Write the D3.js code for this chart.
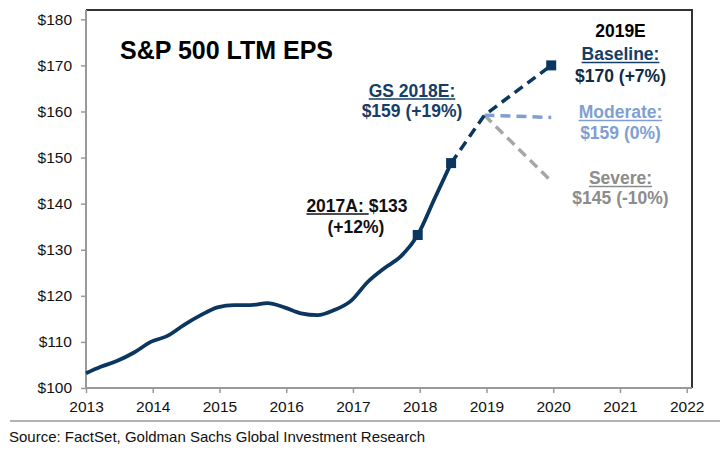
<!DOCTYPE html>
<html>
<head>
<meta charset="utf-8">
<script src="https://cdn.jsdelivr.net/npm/d3@7"></script>
<style>
  html, body { margin: 0; padding: 0; background: #fff; }
  svg { display: block; font-family: "Liberation Sans", Arial, sans-serif; }
</style>
</head>
<body>
<svg id="chart" width="720" height="456"></svg>
<script>
// ---- Data ----
const histDates = [2013.0, 2013.22, 2013.47, 2013.72, 2013.97, 2014.22, 2014.47, 2014.72, 2014.97,
  2015.22, 2015.47, 2015.72, 2015.97, 2016.22, 2016.47, 2016.72, 2016.97,
  2017.22, 2017.47, 2017.72, 2017.97, 2018.22, 2018.47];
const histEPS = [103.2, 104.6, 105.9, 107.7, 110.0, 111.3, 113.7, 115.8, 117.5,
  118.0, 118.0, 118.4, 117.5, 116.2, 115.8, 116.9, 118.9,
  123.0, 126.0, 128.6, 133.2, 141.0, 148.8];

const baselineDates = [2018.47, 2018.97, 2019.97];
const baselineEPS = [148.8, 159.2, 170.0];
const moderateDates = [2018.97, 2019.97];
const moderateEPS = [159.2, 158.7];
const severeDates = [2018.97, 2019.97];
const severeEPS = [159.2, 144.9];

const markerDates = [2017.97, 2018.47, 2019.97];
const markerEPS = [133.2, 148.8, 170.0];

const yTicks = [100, 110, 120, 130, 140, 150, 160, 170, 180];
const xTicks = [2013, 2014, 2015, 2016, 2017, 2018, 2019, 2020, 2021, 2022];

const titleText = "S&P 500 LTM EPS";
const sourceText = "Source: FactSet, Goldman Sachs Global Investment Research";

// ---- Setup ----
const svg = d3.select("#chart");
const navy = "#0b365f";
const lightBlue = "#7f9fd3";
const gray = "#a6a6a6";

const x = d3.scaleLinear().domain([2013, 2022]).range([86, 686.7]);
const y = d3.scaleLinear().domain([100, 180]).range([388, 19.3]);

const plotTop = 10, plotRight = 692, plotBottom = 388, plotLeft = 86;

// frame (top + right)
svg.append("path")
  .attr("d", `M${plotLeft},${plotTop}H${plotRight}V${plotBottom}`)
  .attr("fill", "none").attr("stroke", "#333").attr("stroke-width", 2);

// Y axis
const yAxis = svg.append("g").attr("transform", `translate(${plotLeft},0)`)
  .call(d3.axisLeft(y).tickValues(yTicks).tickSize(5).tickPadding(9).tickFormat(d => "$" + d));
yAxis.select(".domain").attr("d", `M0,${plotTop}V${plotBottom}`).attr("stroke", "#999").attr("stroke-width", 2);
yAxis.selectAll(".tick line").attr("stroke", "#999").attr("stroke-width", 1.5);
yAxis.selectAll(".tick text").attr("font-size", "15.5px").attr("fill", "#111")
  .attr("font-family", "Liberation Sans, Arial, sans-serif");

// X axis
const xAxis = svg.append("g").attr("transform", `translate(0,${plotBottom})`)
  .call(d3.axisBottom(x).tickValues(xTicks).tickSize(5).tickPadding(8).tickFormat(d3.format("d")));
xAxis.select(".domain").attr("d", `M${plotLeft},0H${plotRight}`).attr("stroke", "#999").attr("stroke-width", 2);
xAxis.selectAll(".tick line").attr("stroke", "#999").attr("stroke-width", 1.5);
xAxis.selectAll(".tick text").attr("font-size", "15.5px").attr("fill", "#111")
  .attr("font-family", "Liberation Sans, Arial, sans-serif");

// ---- Lines ----
const line = d3.line().x(d => x(d[0])).y(d => y(d[1]));
const zip = (a, b) => a.map((v, i) => [v, b[i]]);

svg.append("path").datum(zip(severeDates, severeEPS))
  .attr("d", line).attr("fill", "none").attr("stroke", gray)
  .attr("stroke-width", 3.5).attr("stroke-dasharray", "10,6");
svg.append("path").datum(zip(moderateDates, moderateEPS))
  .attr("d", line).attr("fill", "none").attr("stroke", lightBlue)
  .attr("stroke-width", 3.5).attr("stroke-dasharray", "10,6");
svg.append("path").datum(zip(baselineDates, baselineEPS))
  .attr("d", line).attr("fill", "none").attr("stroke", navy)
  .attr("stroke-width", 3.5).attr("stroke-dasharray", "10,6");

svg.append("path").datum(zip(histDates, histEPS))
  .attr("d", d3.line().x(d => x(d[0])).y(d => y(d[1])).curve(d3.curveMonotoneX))
  .attr("fill", "none").attr("stroke", navy).attr("stroke-width", 3.8)
  .attr("stroke-linejoin", "round");

svg.selectAll("rect.marker").data(zip(markerDates, markerEPS)).enter()
  .append("rect").attr("class", "marker")
  .attr("x", d => x(d[0]) - 5).attr("y", d => y(d[1]) - 5)
  .attr("width", 10).attr("height", 10).attr("fill", navy);

// ---- Text ----
svg.append("text").attr("x", 120).attr("y", 58.5)
  .attr("font-size", "25px").attr("font-weight", "bold").attr("fill", "#000")
  .text(titleText);

function label(txt, cx, by, color, underline, ulChars) {
  const t = svg.append("text").attr("x", cx).attr("y", by)
    .attr("text-anchor", "middle").attr("font-size", "17.5px").attr("font-weight", "bold")
    .attr("fill", color).text(txt);
  if (underline) {
    const node = t.node();
    const total = node.getComputedTextLength();
    const n = ulChars || txt.length;
    const w = n >= txt.length ? total : node.getSubStringLength(0, n);
    const x0 = cx - total / 2;
    svg.append("line").attr("x1", x0).attr("x2", x0 + w)
      .attr("y1", by + 2.5).attr("y2", by + 2.5)
      .attr("stroke", color).attr("stroke-width", 1.6);
  }
}

label("2017A: $133", 357, 211.5, "#111", true, 7);
label("(+12%)", 356, 233, "#111", false);
label("GS 2018E:", 412, 96.5, "#163d66", true);
label("$159 (+19%)", 412, 116.5, "#163d66", false);
label("2019E", 620.5, 36.5, "#000", false);
label("Baseline:", 620.5, 60, "#163d66", true);
label("$170 (+7%)", 620.5, 81.5, "#0f2a48", false);
label("Moderate:", 620.5, 118, "#7f9fd3", true);
label("$159 (0%)", 620.5, 138.5, "#7f9fd3", false);
label("Severe:", 620.5, 184, "#8c8c8c", true);
label("$145 (-10%)", 620.5, 203.5, "#8c8c8c", false);

// footer
svg.append("line").attr("x1", 10).attr("x2", 720).attr("y1", 421).attr("y2", 421)
  .attr("stroke", "#999").attr("stroke-width", 1.6);
svg.append("text").attr("x", 9).attr("y", 441.5)
  .attr("font-size", "15px").attr("fill", "#111").text(sourceText);
</script>
</body>
</html>
